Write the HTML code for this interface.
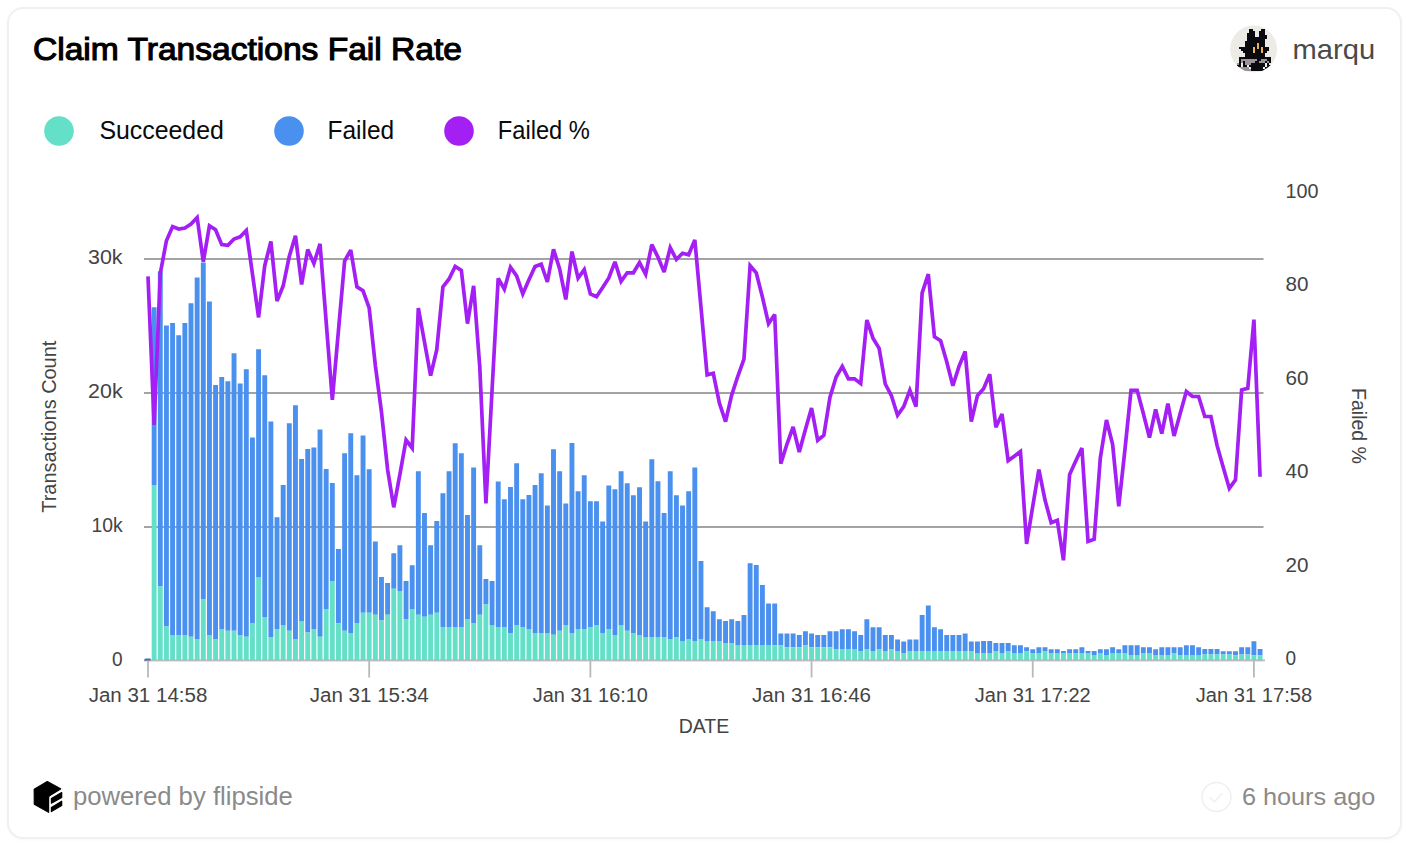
<!DOCTYPE html>
<html><head><meta charset="utf-8"><title>Claim Transactions Fail Rate</title>
<style>
html,body{margin:0;padding:0;background:#fff;}
body{width:1406px;height:848px;position:relative;overflow:hidden;font-family:'Liberation Sans', Arial, sans-serif;}
.card{position:absolute;left:6.5px;top:7px;width:1391.5px;height:828.2px;border:2px solid #f0f0f0;border-radius:16px;background:#fff;box-shadow:0 1px 3px rgba(0,0,0,0.03);}
svg{position:absolute;left:0;top:0;}
.ax{font-family:'Liberation Sans', Arial, sans-serif;font-size:19.5px;fill:#444444;}
.lg{font-family:'Liberation Sans', Arial, sans-serif;font-size:25px;fill:#0a0a0a;}
</style></head>
<body>
<div class="card"></div>
<svg width="1406" height="848" viewBox="0 0 1406 848">
<text x="33" y="60.3" textLength="429" lengthAdjust="spacingAndGlyphs" style="font-family:'Liberation Sans', Arial, sans-serif;font-weight:400;font-size:31px;fill:#000;stroke:#000;stroke-width:1.1px">Claim Transactions Fail Rate</text>
<circle cx="1253.6" cy="49" r="23.5" fill="#ecebe6"/>
<clipPath id="avc"><circle cx="1253.6" cy="49" r="23.5"/></clipPath><g clip-path="url(#avc)" shape-rendering="crispEdges"><rect x="1249.0" y="29.1" width="4.0" height="2.0" fill="#0b0b0f"/><rect x="1261.0" y="29.1" width="4.0" height="2.0" fill="#0b0b0f"/><rect x="1249.0" y="31.1" width="6.0" height="2.0" fill="#0b0b0f"/><rect x="1259.0" y="31.1" width="6.0" height="2.0" fill="#0b0b0f"/><rect x="1247.0" y="33.1" width="8.0" height="2.0" fill="#0b0b0f"/><rect x="1259.0" y="33.1" width="6.0" height="2.0" fill="#0b0b0f"/><rect x="1247.0" y="35.1" width="8.0" height="2.0" fill="#0b0b0f"/><rect x="1259.0" y="35.1" width="8.0" height="2.0" fill="#0b0b0f"/><rect x="1247.0" y="37.1" width="20.0" height="2.0" fill="#0b0b0f"/><rect x="1247.0" y="39.1" width="18.0" height="2.0" fill="#0b0b0f"/><rect x="1245.0" y="41.1" width="20.0" height="2.0" fill="#0b0b0f"/><rect x="1245.0" y="43.1" width="12.0" height="2.0" fill="#0b0b0f"/><rect x="1257.0" y="43.1" width="2.0" height="2.0" fill="#e9b35a"/><rect x="1259.0" y="43.1" width="6.0" height="2.0" fill="#0b0b0f"/><rect x="1245.0" y="45.1" width="12.0" height="2.0" fill="#0b0b0f"/><rect x="1257.0" y="45.1" width="2.0" height="2.0" fill="#e9b35a"/><rect x="1259.0" y="45.1" width="6.0" height="2.0" fill="#0b0b0f"/><rect x="1239.0" y="47.1" width="14.0" height="2.0" fill="#0b0b0f"/><rect x="1253.0" y="47.1" width="2.0" height="2.0" fill="#e9b35a"/><rect x="1255.0" y="47.1" width="2.0" height="2.0" fill="#0b0b0f"/><rect x="1257.0" y="47.1" width="2.0" height="2.0" fill="#e9b35a"/><rect x="1259.0" y="47.1" width="2.0" height="2.0" fill="#0b0b0f"/><rect x="1261.0" y="47.1" width="2.0" height="2.0" fill="#e9b35a"/><rect x="1263.0" y="47.1" width="6.0" height="2.0" fill="#0b0b0f"/><rect x="1241.0" y="49.1" width="12.0" height="2.0" fill="#0b0b0f"/><rect x="1253.0" y="49.1" width="2.0" height="2.0" fill="#e9b35a"/><rect x="1255.0" y="49.1" width="6.0" height="2.0" fill="#0b0b0f"/><rect x="1261.0" y="49.1" width="2.0" height="2.0" fill="#e9b35a"/><rect x="1263.0" y="49.1" width="6.0" height="2.0" fill="#0b0b0f"/><rect x="1243.0" y="51.1" width="10.0" height="2.0" fill="#0b0b0f"/><rect x="1253.0" y="51.1" width="2.0" height="2.0" fill="#e9b35a"/><rect x="1255.0" y="51.1" width="6.0" height="2.0" fill="#0b0b0f"/><rect x="1261.0" y="51.1" width="2.0" height="2.0" fill="#e9b35a"/><rect x="1263.0" y="51.1" width="4.0" height="2.0" fill="#0b0b0f"/><rect x="1245.0" y="53.1" width="20.0" height="2.0" fill="#0b0b0f"/><rect x="1245.0" y="55.1" width="20.0" height="2.0" fill="#0b0b0f"/><rect x="1239.0" y="57.1" width="32.0" height="2.0" fill="#0b0b0f"/><rect x="1239.0" y="59.1" width="2.0" height="2.0" fill="#0b0b0f"/><rect x="1241.0" y="59.1" width="16.0" height="2.0" fill="#9c949a"/><rect x="1257.0" y="59.1" width="4.0" height="2.0" fill="#0b0b0f"/><rect x="1261.0" y="59.1" width="6.0" height="2.0" fill="#9c949a"/><rect x="1267.0" y="59.1" width="4.0" height="2.0" fill="#0b0b0f"/><rect x="1239.0" y="61.1" width="2.0" height="2.0" fill="#0b0b0f"/><rect x="1241.0" y="61.1" width="2.0" height="2.0" fill="#9c949a"/><rect x="1243.0" y="61.1" width="2.0" height="2.0" fill="#0b0b0f"/><rect x="1245.0" y="61.1" width="10.0" height="2.0" fill="#9c949a"/><rect x="1255.0" y="61.1" width="4.0" height="2.0" fill="#0b0b0f"/><rect x="1259.0" y="61.1" width="6.0" height="2.0" fill="#9c949a"/><rect x="1265.0" y="61.1" width="2.0" height="2.0" fill="#0b0b0f"/><rect x="1267.0" y="61.1" width="2.0" height="2.0" fill="#9c949a"/><rect x="1269.0" y="61.1" width="2.0" height="2.0" fill="#0b0b0f"/><rect x="1237.0" y="63.1" width="2.0" height="2.0" fill="#9c949a"/><rect x="1239.0" y="63.1" width="2.0" height="2.0" fill="#0b0b0f"/><rect x="1241.0" y="63.1" width="2.0" height="2.0" fill="#f2f0ee"/><rect x="1243.0" y="63.1" width="2.0" height="2.0" fill="#0b0b0f"/><rect x="1245.0" y="63.1" width="6.0" height="2.0" fill="#9c949a"/><rect x="1251.0" y="63.1" width="14.0" height="2.0" fill="#0b0b0f"/><rect x="1265.0" y="63.1" width="2.0" height="2.0" fill="#f2f0ee"/><rect x="1267.0" y="63.1" width="2.0" height="2.0" fill="#0b0b0f"/><rect x="1237.0" y="65.1" width="4.0" height="2.0" fill="#0b0b0f"/><rect x="1241.0" y="65.1" width="2.0" height="2.0" fill="#f2f0ee"/><rect x="1243.0" y="65.1" width="4.0" height="2.0" fill="#0b0b0f"/><rect x="1247.0" y="65.1" width="2.0" height="2.0" fill="#f2f0ee"/><rect x="1249.0" y="65.1" width="16.0" height="2.0" fill="#0b0b0f"/><rect x="1265.0" y="65.1" width="2.0" height="2.0" fill="#f2f0ee"/><rect x="1267.0" y="65.1" width="4.0" height="2.0" fill="#0b0b0f"/><rect x="1239.0" y="67.1" width="10.0" height="2.0" fill="#9c949a"/><rect x="1249.0" y="67.1" width="2.0" height="2.0" fill="#f2f0ee"/><rect x="1251.0" y="67.1" width="12.0" height="2.0" fill="#0b0b0f"/><rect x="1263.0" y="67.1" width="2.0" height="2.0" fill="#f2f0ee"/><rect x="1265.0" y="67.1" width="4.0" height="2.0" fill="#0b0b0f"/><rect x="1241.0" y="69.1" width="10.0" height="2.0" fill="#9c949a"/><rect x="1251.0" y="69.1" width="14.0" height="2.0" fill="#0b0b0f"/></g>
<text x="1292.6" y="59" textLength="82.6" lengthAdjust="spacingAndGlyphs" style="font-family:'Liberation Sans', Arial, sans-serif;font-size:28.5px;fill:#4a4a4a">marqu</text>
<circle cx="59" cy="131" r="14.8" fill="#63E0C7"/>
<text x="99.4" y="138.6" textLength="124.5" lengthAdjust="spacingAndGlyphs" class="lg">Succeeded</text>
<circle cx="289" cy="131" r="14.8" fill="#4A90EE"/>
<text x="327.5" y="138.6" textLength="66.7" lengthAdjust="spacingAndGlyphs" class="lg">Failed</text>
<circle cx="459" cy="131" r="14.8" fill="#A31FF4"/>
<text x="497.8" y="138.6" textLength="92.1" lengthAdjust="spacingAndGlyphs" class="lg">Failed %</text>
<rect x="144" y="258" width="1119.5" height="2" fill="#a3a3a3"/>
<rect x="144" y="392" width="1119.5" height="2" fill="#a3a3a3"/>
<rect x="144" y="526" width="1119.5" height="2" fill="#a3a3a3"/>
<path fill="#4A90EE" d="M145.55 658.5h4.9V660.5h-4.9zM151.69 307.2h4.9V485.1h-4.9zM157.84 271.2h4.9V586.6h-4.9zM163.98 325.5h4.9V626.5h-4.9zM170.13 323.1h4.9V635h-4.9zM176.27 335.2h4.9V635h-4.9zM182.41 323.1h4.9V635h-4.9zM188.56 303.3h4.9V636.7h-4.9zM194.7 277.5h4.9V638.9h-4.9zM200.85 262.6h4.9V599h-4.9zM206.99 301.4h4.9V635h-4.9zM213.13 385h4.9V638.9h-4.9zM219.28 377.1h4.9V628.9h-4.9zM225.42 381.3h4.9V630.8h-4.9zM231.57 353.2h4.9V630.8h-4.9zM237.71 383.4h4.9V635h-4.9zM243.85 369.3h4.9V636.7h-4.9zM250 437.4h4.9V622.9h-4.9zM256.14 349.3h4.9V577.1h-4.9zM262.29 375.2h4.9V617h-4.9zM268.43 421.4h4.9V637h-4.9zM274.57 517.2h4.9V628.9h-4.9zM280.72 485.1h4.9V625h-4.9zM286.86 423.3h4.9V630.8h-4.9zM293.01 405.3h4.9V638.9h-4.9zM299.15 459.1h4.9V621.1h-4.9zM305.29 449.1h4.9V632.6h-4.9zM311.44 447.5h4.9V628.9h-4.9zM317.58 429.5h4.9V636.7h-4.9zM323.73 469h4.9V608.9h-4.9zM329.87 483h4.9V581h-4.9zM336.01 549.1h4.9V623.3h-4.9zM342.16 453.3h4.9V630.8h-4.9zM348.3 433.3h4.9V633.1h-4.9zM354.45 475.2h4.9V622.9h-4.9zM360.59 435.5h4.9V612.8h-4.9zM366.73 469.3h4.9V612.8h-4.9zM372.88 541.4h4.9V614.8h-4.9zM379.02 577.1h4.9V620.6h-4.9zM385.17 583h4.9V614.8h-4.9zM391.31 553.3h4.9V588.8h-4.9zM397.45 545.2h4.9V590.9h-4.9zM403.6 581h4.9V619h-4.9zM409.74 565.2h4.9V608.9h-4.9zM415.89 471.3h4.9V614.8h-4.9zM422.03 513.1h4.9V616.7h-4.9zM428.17 545.2h4.9V614.8h-4.9zM434.32 521.1h4.9V612.8h-4.9zM440.46 493.2h4.9V626.9h-4.9zM446.61 471.3h4.9V626.9h-4.9zM452.75 443.3h4.9V626.9h-4.9zM458.89 453.3h4.9V626.9h-4.9zM465.04 515.1h4.9V619h-4.9zM471.18 467.4h4.9V622.9h-4.9zM477.33 545.2h4.9V614.8h-4.9zM483.47 579.1h4.9V604.5h-4.9zM489.61 581h4.9V625h-4.9zM495.76 481.5h4.9V626.9h-4.9zM501.9 499.2h4.9V626.9h-4.9zM508.05 487h4.9V633.1h-4.9zM514.19 463.2h4.9V625h-4.9zM520.33 499.2h4.9V626.9h-4.9zM526.48 495.1h4.9V628.9h-4.9zM532.62 485.1h4.9V633.1h-4.9zM538.77 473.2h4.9V633.1h-4.9zM544.91 505.4h4.9V633.1h-4.9zM551.05 449.3h4.9V634.7h-4.9zM557.2 471.3h4.9V630.8h-4.9zM563.34 503.4h4.9V625h-4.9zM569.49 443.1h4.9V633.1h-4.9zM575.63 491.2h4.9V628.9h-4.9zM581.77 475.2h4.9V628.9h-4.9zM587.92 501.3h4.9V626.9h-4.9zM594.06 501.3h4.9V625h-4.9zM600.21 521.4h4.9V633.1h-4.9zM606.35 485.4h4.9V628.9h-4.9zM612.49 489.3h4.9V635h-4.9zM618.64 471.3h4.9V625h-4.9zM624.78 483.3h4.9V630.8h-4.9zM630.93 495.2h4.9V633.1h-4.9zM637.07 487.3h4.9V635h-4.9zM643.21 521.4h4.9V637h-4.9zM649.36 459.2h4.9V637h-4.9zM655.5 481.2h4.9V637h-4.9zM661.65 513.1h4.9V637h-4.9zM667.79 471.3h4.9V638.9h-4.9zM673.93 495.2h4.9V637h-4.9zM680.08 505.4h4.9V640.9h-4.9zM686.22 491.2h4.9V638.9h-4.9zM692.37 467.4h4.9V640.9h-4.9zM698.51 561.1h4.9V638.9h-4.9zM704.65 607.3h4.9V640.9h-4.9zM710.8 611.2h4.9V640.9h-4.9zM716.94 619.3h4.9V640.9h-4.9zM723.09 621.1h4.9V643h-4.9zM729.23 619.3h4.9V643h-4.9zM735.37 621.1h4.9V644.9h-4.9zM741.52 615.1h4.9V644.9h-4.9zM747.66 563.2h4.9V644.9h-4.9zM753.81 565h4.9V644.9h-4.9zM759.95 585.1h4.9V644.9h-4.9zM766.09 603.4h4.9V644.9h-4.9zM772.24 603.4h4.9V645.2h-4.9zM778.38 633.4h4.9V645.2h-4.9zM784.53 633.4h4.9V647.2h-4.9zM790.67 633.4h4.9V647.2h-4.9zM796.81 635.1h4.9V647.2h-4.9zM802.96 631.2h4.9V645.2h-4.9zM809.1 633.4h4.9V647.2h-4.9zM815.25 635.1h4.9V647.2h-4.9zM821.39 635.1h4.9V647.2h-4.9zM827.53 631.2h4.9V647.2h-4.9zM833.68 631.2h4.9V649.1h-4.9zM839.82 629.2h4.9V649.1h-4.9zM845.97 629.2h4.9V649.1h-4.9zM852.11 631.2h4.9V649.1h-4.9zM858.25 635.1h4.9V651.1h-4.9zM864.4 619.3h4.9V649.1h-4.9zM870.54 627.3h4.9V651.1h-4.9zM876.69 627.3h4.9V649.1h-4.9zM882.83 635.1h4.9V651.1h-4.9zM888.97 635.1h4.9V649.1h-4.9zM895.12 639.4h4.9V651.1h-4.9zM901.26 641.4h4.9V653h-4.9zM907.41 639.4h4.9V651.1h-4.9zM913.55 639.4h4.9V651.1h-4.9zM919.69 615.1h4.9V651.1h-4.9zM925.84 605.4h4.9V651.1h-4.9zM931.98 627.3h4.9V651.1h-4.9zM938.13 629.2h4.9V651.1h-4.9zM944.27 635.1h4.9V651.1h-4.9zM950.41 635.1h4.9V651.1h-4.9zM956.56 635.1h4.9V651.1h-4.9zM962.7 633.4h4.9V651.1h-4.9zM968.85 641.4h4.9V651.1h-4.9zM974.99 641.4h4.9V653h-4.9zM981.13 641.1h4.9V653.1h-4.9zM987.28 641.1h4.9V653.1h-4.9zM993.42 643h4.9V651.1h-4.9zM999.57 643h4.9V653.1h-4.9zM1005.71 643h4.9V651.1h-4.9zM1011.85 645.3h4.9V653.1h-4.9zM1018 645.3h4.9V653.1h-4.9zM1024.14 647.2h4.9V651.5h-4.9zM1030.29 649.2h4.9V653.1h-4.9zM1036.43 647.2h4.9V653.1h-4.9zM1042.57 647.2h4.9V651.1h-4.9zM1048.72 649.2h4.9V653.1h-4.9zM1054.86 649.2h4.9V653.1h-4.9zM1061.01 651.1h4.9V653.1h-4.9zM1067.15 649.2h4.9V653.1h-4.9zM1073.29 649.2h4.9V653.1h-4.9zM1079.44 647.2h4.9V653.1h-4.9zM1085.58 651.1h4.9V653.1h-4.9zM1091.73 651.1h4.9V655.1h-4.9zM1097.87 649.2h4.9V653.1h-4.9zM1104.01 649.2h4.9V655.1h-4.9zM1110.16 647.2h4.9V653.1h-4.9zM1116.3 649.2h4.9V653.1h-4.9zM1122.45 645.3h4.9V653.1h-4.9zM1128.59 645.3h4.9V655.1h-4.9zM1134.73 645.3h4.9V655.1h-4.9zM1140.88 647.2h4.9V653.1h-4.9zM1147.02 647.2h4.9V653.1h-4.9zM1153.17 649.2h4.9V655.1h-4.9zM1159.31 647.2h4.9V655.1h-4.9zM1165.45 647.2h4.9V655.1h-4.9zM1171.6 647.2h4.9V653.1h-4.9zM1177.74 647.2h4.9V655.1h-4.9zM1183.89 645.3h4.9V655.1h-4.9zM1190.03 645.3h4.9V655.1h-4.9zM1196.17 647.2h4.9V655.1h-4.9zM1202.32 649.1h4.9V654.6h-4.9zM1208.46 649.1h4.9V654.6h-4.9zM1214.61 649.1h4.9V654.6h-4.9zM1220.75 651.2h4.9V654.6h-4.9zM1226.89 651.2h4.9V654.6h-4.9zM1233.04 651.2h4.9V655.2h-4.9zM1239.18 647.2h4.9V654.6h-4.9zM1245.33 647.2h4.9V654.6h-4.9zM1251.47 641.2h4.9V655.2h-4.9zM1257.61 649.1h4.9V655.2h-4.9z"/>
<path fill="#63E0C7" d="M151.69 485.1h4.9V660.5h-4.9zM157.84 586.6h4.9V660.5h-4.9zM163.98 626.5h4.9V660.5h-4.9zM170.13 635h4.9V660.5h-4.9zM176.27 635h4.9V660.5h-4.9zM182.41 635h4.9V660.5h-4.9zM188.56 636.7h4.9V660.5h-4.9zM194.7 638.9h4.9V660.5h-4.9zM200.85 599h4.9V660.5h-4.9zM206.99 635h4.9V660.5h-4.9zM213.13 638.9h4.9V660.5h-4.9zM219.28 628.9h4.9V660.5h-4.9zM225.42 630.8h4.9V660.5h-4.9zM231.57 630.8h4.9V660.5h-4.9zM237.71 635h4.9V660.5h-4.9zM243.85 636.7h4.9V660.5h-4.9zM250 622.9h4.9V660.5h-4.9zM256.14 577.1h4.9V660.5h-4.9zM262.29 617h4.9V660.5h-4.9zM268.43 637h4.9V660.5h-4.9zM274.57 628.9h4.9V660.5h-4.9zM280.72 625h4.9V660.5h-4.9zM286.86 630.8h4.9V660.5h-4.9zM293.01 638.9h4.9V660.5h-4.9zM299.15 621.1h4.9V660.5h-4.9zM305.29 632.6h4.9V660.5h-4.9zM311.44 628.9h4.9V660.5h-4.9zM317.58 636.7h4.9V660.5h-4.9zM323.73 608.9h4.9V660.5h-4.9zM329.87 581h4.9V660.5h-4.9zM336.01 623.3h4.9V660.5h-4.9zM342.16 630.8h4.9V660.5h-4.9zM348.3 633.1h4.9V660.5h-4.9zM354.45 622.9h4.9V660.5h-4.9zM360.59 612.8h4.9V660.5h-4.9zM366.73 612.8h4.9V660.5h-4.9zM372.88 614.8h4.9V660.5h-4.9zM379.02 620.6h4.9V660.5h-4.9zM385.17 614.8h4.9V660.5h-4.9zM391.31 588.8h4.9V660.5h-4.9zM397.45 590.9h4.9V660.5h-4.9zM403.6 619h4.9V660.5h-4.9zM409.74 608.9h4.9V660.5h-4.9zM415.89 614.8h4.9V660.5h-4.9zM422.03 616.7h4.9V660.5h-4.9zM428.17 614.8h4.9V660.5h-4.9zM434.32 612.8h4.9V660.5h-4.9zM440.46 626.9h4.9V660.5h-4.9zM446.61 626.9h4.9V660.5h-4.9zM452.75 626.9h4.9V660.5h-4.9zM458.89 626.9h4.9V660.5h-4.9zM465.04 619h4.9V660.5h-4.9zM471.18 622.9h4.9V660.5h-4.9zM477.33 614.8h4.9V660.5h-4.9zM483.47 604.5h4.9V660.5h-4.9zM489.61 625h4.9V660.5h-4.9zM495.76 626.9h4.9V660.5h-4.9zM501.9 626.9h4.9V660.5h-4.9zM508.05 633.1h4.9V660.5h-4.9zM514.19 625h4.9V660.5h-4.9zM520.33 626.9h4.9V660.5h-4.9zM526.48 628.9h4.9V660.5h-4.9zM532.62 633.1h4.9V660.5h-4.9zM538.77 633.1h4.9V660.5h-4.9zM544.91 633.1h4.9V660.5h-4.9zM551.05 634.7h4.9V660.5h-4.9zM557.2 630.8h4.9V660.5h-4.9zM563.34 625h4.9V660.5h-4.9zM569.49 633.1h4.9V660.5h-4.9zM575.63 628.9h4.9V660.5h-4.9zM581.77 628.9h4.9V660.5h-4.9zM587.92 626.9h4.9V660.5h-4.9zM594.06 625h4.9V660.5h-4.9zM600.21 633.1h4.9V660.5h-4.9zM606.35 628.9h4.9V660.5h-4.9zM612.49 635h4.9V660.5h-4.9zM618.64 625h4.9V660.5h-4.9zM624.78 630.8h4.9V660.5h-4.9zM630.93 633.1h4.9V660.5h-4.9zM637.07 635h4.9V660.5h-4.9zM643.21 637h4.9V660.5h-4.9zM649.36 637h4.9V660.5h-4.9zM655.5 637h4.9V660.5h-4.9zM661.65 637h4.9V660.5h-4.9zM667.79 638.9h4.9V660.5h-4.9zM673.93 637h4.9V660.5h-4.9zM680.08 640.9h4.9V660.5h-4.9zM686.22 638.9h4.9V660.5h-4.9zM692.37 640.9h4.9V660.5h-4.9zM698.51 638.9h4.9V660.5h-4.9zM704.65 640.9h4.9V660.5h-4.9zM710.8 640.9h4.9V660.5h-4.9zM716.94 640.9h4.9V660.5h-4.9zM723.09 643h4.9V660.5h-4.9zM729.23 643h4.9V660.5h-4.9zM735.37 644.9h4.9V660.5h-4.9zM741.52 644.9h4.9V660.5h-4.9zM747.66 644.9h4.9V660.5h-4.9zM753.81 644.9h4.9V660.5h-4.9zM759.95 644.9h4.9V660.5h-4.9zM766.09 644.9h4.9V660.5h-4.9zM772.24 645.2h4.9V660.5h-4.9zM778.38 645.2h4.9V660.5h-4.9zM784.53 647.2h4.9V660.5h-4.9zM790.67 647.2h4.9V660.5h-4.9zM796.81 647.2h4.9V660.5h-4.9zM802.96 645.2h4.9V660.5h-4.9zM809.1 647.2h4.9V660.5h-4.9zM815.25 647.2h4.9V660.5h-4.9zM821.39 647.2h4.9V660.5h-4.9zM827.53 647.2h4.9V660.5h-4.9zM833.68 649.1h4.9V660.5h-4.9zM839.82 649.1h4.9V660.5h-4.9zM845.97 649.1h4.9V660.5h-4.9zM852.11 649.1h4.9V660.5h-4.9zM858.25 651.1h4.9V660.5h-4.9zM864.4 649.1h4.9V660.5h-4.9zM870.54 651.1h4.9V660.5h-4.9zM876.69 649.1h4.9V660.5h-4.9zM882.83 651.1h4.9V660.5h-4.9zM888.97 649.1h4.9V660.5h-4.9zM895.12 651.1h4.9V660.5h-4.9zM901.26 653h4.9V660.5h-4.9zM907.41 651.1h4.9V660.5h-4.9zM913.55 651.1h4.9V660.5h-4.9zM919.69 651.1h4.9V660.5h-4.9zM925.84 651.1h4.9V660.5h-4.9zM931.98 651.1h4.9V660.5h-4.9zM938.13 651.1h4.9V660.5h-4.9zM944.27 651.1h4.9V660.5h-4.9zM950.41 651.1h4.9V660.5h-4.9zM956.56 651.1h4.9V660.5h-4.9zM962.7 651.1h4.9V660.5h-4.9zM968.85 651.1h4.9V660.5h-4.9zM974.99 653h4.9V660.5h-4.9zM981.13 653.1h4.9V660.5h-4.9zM987.28 653.1h4.9V660.5h-4.9zM993.42 651.1h4.9V660.5h-4.9zM999.57 653.1h4.9V660.5h-4.9zM1005.71 651.1h4.9V660.5h-4.9zM1011.85 653.1h4.9V660.5h-4.9zM1018 653.1h4.9V660.5h-4.9zM1024.14 651.5h4.9V660.5h-4.9zM1030.29 653.1h4.9V660.5h-4.9zM1036.43 653.1h4.9V660.5h-4.9zM1042.57 651.1h4.9V660.5h-4.9zM1048.72 653.1h4.9V660.5h-4.9zM1054.86 653.1h4.9V660.5h-4.9zM1061.01 653.1h4.9V660.5h-4.9zM1067.15 653.1h4.9V660.5h-4.9zM1073.29 653.1h4.9V660.5h-4.9zM1079.44 653.1h4.9V660.5h-4.9zM1085.58 653.1h4.9V660.5h-4.9zM1091.73 655.1h4.9V660.5h-4.9zM1097.87 653.1h4.9V660.5h-4.9zM1104.01 655.1h4.9V660.5h-4.9zM1110.16 653.1h4.9V660.5h-4.9zM1116.3 653.1h4.9V660.5h-4.9zM1122.45 653.1h4.9V660.5h-4.9zM1128.59 655.1h4.9V660.5h-4.9zM1134.73 655.1h4.9V660.5h-4.9zM1140.88 653.1h4.9V660.5h-4.9zM1147.02 653.1h4.9V660.5h-4.9zM1153.17 655.1h4.9V660.5h-4.9zM1159.31 655.1h4.9V660.5h-4.9zM1165.45 655.1h4.9V660.5h-4.9zM1171.6 653.1h4.9V660.5h-4.9zM1177.74 655.1h4.9V660.5h-4.9zM1183.89 655.1h4.9V660.5h-4.9zM1190.03 655.1h4.9V660.5h-4.9zM1196.17 655.1h4.9V660.5h-4.9zM1202.32 654.6h4.9V660.5h-4.9zM1208.46 654.6h4.9V660.5h-4.9zM1214.61 654.6h4.9V660.5h-4.9zM1220.75 654.6h4.9V660.5h-4.9zM1226.89 654.6h4.9V660.5h-4.9zM1233.04 655.2h4.9V660.5h-4.9zM1239.18 654.6h4.9V660.5h-4.9zM1245.33 654.6h4.9V660.5h-4.9zM1251.47 655.2h4.9V660.5h-4.9zM1257.61 655.2h4.9V660.5h-4.9z"/>
<rect x="144" y="659.4" width="1121" height="2" fill="#b3b3b3" fill-opacity="0.85"/>
<rect x="144.5" y="658.8" width="6" height="2" fill="#5a6e9c"/>
<line x1="148" y1="660.5" x2="148" y2="677.5" stroke="#b8b8b8" stroke-width="1.8"/>
<text x="148" y="701.7" text-anchor="middle" textLength="118.7" lengthAdjust="spacingAndGlyphs" class="ax">Jan 31 14:58</text>
<line x1="369.18" y1="660.5" x2="369.18" y2="677.5" stroke="#b8b8b8" stroke-width="1.8"/>
<text x="369.18" y="701.7" text-anchor="middle" textLength="119" lengthAdjust="spacingAndGlyphs" class="ax">Jan 31 15:34</text>
<line x1="590.37" y1="660.5" x2="590.37" y2="677.5" stroke="#b8b8b8" stroke-width="1.8"/>
<text x="590.37" y="701.7" text-anchor="middle" textLength="115.1" lengthAdjust="spacingAndGlyphs" class="ax">Jan 31 16:10</text>
<line x1="811.55" y1="660.5" x2="811.55" y2="677.5" stroke="#b8b8b8" stroke-width="1.8"/>
<text x="811.55" y="701.7" text-anchor="middle" textLength="119" lengthAdjust="spacingAndGlyphs" class="ax">Jan 31 16:46</text>
<line x1="1032.74" y1="660.5" x2="1032.74" y2="677.5" stroke="#b8b8b8" stroke-width="1.8"/>
<text x="1032.74" y="701.7" text-anchor="middle" textLength="116" lengthAdjust="spacingAndGlyphs" class="ax">Jan 31 17:22</text>
<line x1="1253.92" y1="660.5" x2="1253.92" y2="677.5" stroke="#b8b8b8" stroke-width="1.8"/>
<text x="1253.92" y="701.7" text-anchor="middle" textLength="116.5" lengthAdjust="spacingAndGlyphs" class="ax">Jan 31 17:58</text>
<polyline points="148,276.4 154.14,424.9 160.29,273.5 166.43,240.7 172.58,226.6 178.72,229 184.86,228 191.01,224 197.15,217.5 203.3,261.8 209.44,225.8 215.58,229.7 221.73,244.6 227.87,245.4 234.02,239 240.16,236.8 246.3,230.5 252.45,273.9 258.59,317.4 264.74,265.7 270.88,241.5 277.02,301 283.17,286 289.31,256.3 295.46,235.7 301.6,284.5 307.74,249.5 313.89,263.4 320.03,243.8 326.18,322 332.32,399.8 338.46,330.5 344.61,261 350.75,250.1 356.9,286.9 363.04,290.8 369.18,308 375.33,365.4 381.47,412 387.62,469.7 393.76,507.3 399.9,474.4 406.05,440 412.19,448 418.34,308 424.48,342 430.62,375.6 436.77,349.7 442.91,286.9 449.06,279 455.2,266.5 461.34,270.4 467.49,323.6 473.63,285.8 479.78,367 485.92,503.4 492.06,390 498.21,278.3 504.35,289.2 510.5,267.3 516.64,275.9 522.78,293.9 528.93,279.8 535.07,266.5 541.22,264.2 547.36,282 553.5,249.3 559.65,268.9 565.79,299.4 571.94,251.6 578.08,278.2 584.22,269.6 590.37,293.9 596.51,296.7 602.66,287.6 608.8,277.9 614.94,261.8 621.09,281.4 627.23,272.8 633.38,272.8 639.52,262.6 645.66,274.3 651.81,244.6 657.95,257.1 664.1,272 670.24,247.7 676.38,259.5 682.53,253.2 688.67,254.8 694.82,239.9 700.96,307 707.1,374.8 713.25,373.2 719.39,403 725.54,421.7 731.68,395.1 737.82,376.3 743.97,359.1 750.11,265.7 756.26,272.8 762.4,297 768.54,323.6 774.69,314.5 780.83,463.7 786.98,444 793.12,427 799.26,452 805.41,429.5 811.55,408 817.7,440.3 823.84,435.3 829.98,397.2 836.13,377 842.27,366.4 848.42,378.9 854.56,378.9 860.7,383.6 866.85,320 872.99,338.2 879.14,348.4 885.28,384 891.42,395.6 897.57,415.2 903.71,406.6 909.86,390.2 916,406.6 922.14,292.9 928.29,274.1 934.43,336.7 940.58,340.6 946.72,361.7 952.86,385.7 959.01,366.4 965.15,351.5 971.3,421.5 977.44,395.6 983.58,388.8 989.73,374.1 995.87,427.3 1002.02,414 1008.16,460.6 1014.3,456.2 1020.45,451.5 1026.59,543.9 1032.74,506.3 1038.88,469.6 1045.02,500 1051.17,522.8 1057.31,520.4 1063.46,560.3 1069.6,474.6 1075.74,461 1081.89,448 1088.03,541.5 1094.18,539.2 1100.32,457.9 1106.46,420 1112.61,444.2 1118.75,506.4 1124.9,450 1131.04,390.3 1137.18,390.3 1143.33,413.5 1149.47,437.6 1155.62,409.4 1161.76,433.6 1167.9,403.6 1174.05,436 1180.19,413.5 1186.34,391.5 1192.48,396.5 1198.62,396.5 1204.77,416.5 1210.91,416.5 1217.06,445.4 1223.2,467.3 1229.34,488.4 1235.49,479.8 1241.63,390 1247.78,388.4 1253.92,319.6 1260.06,476.7" fill="none" stroke="#A31FF4" stroke-width="3.7" stroke-linejoin="miter" stroke-miterlimit="3"/>
<text x="112" y="665.7" textLength="10.6" lengthAdjust="spacingAndGlyphs" class="ax">0</text>
<text x="91.4" y="531.65" textLength="31.2" lengthAdjust="spacingAndGlyphs" class="ax">10k</text>
<text x="88.1" y="397.6" textLength="34.5" lengthAdjust="spacingAndGlyphs" class="ax">20k</text>
<text x="88" y="263.55" textLength="34.6" lengthAdjust="spacingAndGlyphs" class="ax">30k</text>
<text x="1285.4" y="665.4" textLength="10.6" lengthAdjust="spacingAndGlyphs" class="ax">0</text>
<text x="1285.4" y="571.86" textLength="23" lengthAdjust="spacingAndGlyphs" class="ax">20</text>
<text x="1285.4" y="478.32" textLength="23" lengthAdjust="spacingAndGlyphs" class="ax">40</text>
<text x="1285.4" y="384.78" textLength="23" lengthAdjust="spacingAndGlyphs" class="ax">60</text>
<text x="1285.4" y="291.24" textLength="23" lengthAdjust="spacingAndGlyphs" class="ax">80</text>
<text x="1285.4" y="197.7" textLength="33" lengthAdjust="spacingAndGlyphs" class="ax">100</text>
<text x="704" y="732.5" text-anchor="middle" class="ax">DATE</text>
<text transform="translate(56 426.7) rotate(-90)" text-anchor="middle" textLength="172" lengthAdjust="spacingAndGlyphs" class="ax">Transactions Count</text>
<text transform="translate(1352 426) rotate(90)" text-anchor="middle" textLength="76" lengthAdjust="spacingAndGlyphs" class="ax">Failed %</text>
<g fill="#000" stroke="#000" stroke-width="1.2" stroke-linejoin="round">
<path d="M47.3 781.6L60.6 788.9L49.9 795.6Q48.6 796.5 48.6 798L48.6 812.3L34.3 804.2L34.2 789.2Z"/>
<path d="M51.4 798.6L61.7 792.6L61.7 797.4L51.4 803.2Z"/>
<path d="M51.4 807.4L61.7 801.2L61.7 805.6L51.4 811.6Z"/>
</g>
<text x="72.9" y="804.6" textLength="220" lengthAdjust="spacingAndGlyphs" style="font-family:'Liberation Sans', Arial, sans-serif;font-size:26px;fill:#8a8a8a">powered by flipside</text>
<circle cx="1216.5" cy="797" r="14.5" fill="none" stroke="#efefef" stroke-width="1.5"/>
<path d="M1210 797.5l4.5 4.5l8-9" fill="none" stroke="#efefef" stroke-width="1.5"/>
<text x="1241.9" y="804.6" textLength="133.4" lengthAdjust="spacingAndGlyphs" style="font-family:'Liberation Sans', Arial, sans-serif;font-size:24.5px;fill:#8a8a8a">6 hours ago</text>
</svg>
</body></html>
